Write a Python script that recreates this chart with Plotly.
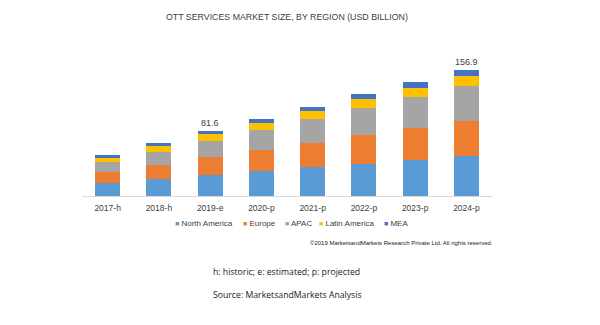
import plotly.graph_objects as go

years = ["2017-h", "2018-h", "2019-e", "2020-p", "2021-p", "2022-p", "2023-p", "2024-p"]
north_america = [16.1, 21.1, 25.8, 30.8, 35.8, 40.4, 45.4, 49.9]
europe = [13.6, 17.9, 22.8, 26.2, 30.8, 35.3, 39.1, 43.7]
apac = [12.4, 16.5, 20.5, 25.8, 29.5, 34.1, 39.1, 43.7]
latin_america = [5.8, 6.6, 7.9, 8.7, 10.0, 10.9, 11.7, 12.5]
mea = [2.9, 3.7, 4.6, 5.0, 5.5, 6.2, 6.6, 7.1]
labelled = {"2019-e": "81.6", "2024-p": "156.9"}

series = [
    ("North America", north_america, "#5B9BD5"),
    ("Europe", europe, "#ED7D31"),
    ("APAC", apac, "#A5A5A5"),
    ("Latin America", latin_america, "#FFC000"),
    ("MEA", mea, "#4472C4"),
]

fig = go.Figure()
for name, vals, color in series:
    fig.add_trace(go.Bar(x=years, y=vals, name=name, marker=dict(color=color, line=dict(width=0)),
                         showlegend=False))

totals = [sum(v) for v in zip(*[s[1] for s in series])]
for yr, tot in zip(years, totals):
    if yr in labelled:
        fig.add_annotation(x=yr, y=tot, text=labelled[yr], showarrow=False, yanchor="bottom", yshift=1,
                           font=dict(family="Liberation Sans, Arial", size=9, color="#404040"))

W, H = 600, 325
L, R, T, B = 82, 108, 60, 129
pw = W - L - R
ph = H - T - B

def px(x):
    return (x - L) / pw

def py(y):
    return (H - B - y) / ph

fig.add_annotation(xref="paper", yref="paper", x=px(287), y=py(17), text="OTT SERVICES MARKET SIZE, BY REGION (USD BILLION)",
                   showarrow=False, xanchor="center", yanchor="middle",
                   font=dict(family="Liberation Sans, Arial", size=8.8, color="#404040"))

leg_x = [173, 241, 283, 317, 382]
for (name, vals, color), lx in zip(series, leg_x):
    fig.add_annotation(xref="paper", yref="paper", x=px(lx), y=py(223), xanchor="left", yanchor="middle",
                       showarrow=False,
                       text=f"<span style='color:{color};font-size:7px'>■</span> {name}",
                       font=dict(family="Liberation Sans, Arial", size=8, color="#404040"))

fig.add_annotation(xref="paper", yref="paper", x=px(495), y=py(243), xanchor="right", yanchor="middle",
                   showarrow=False, text="©2019 MarketsandMarkets Research Private Ltd. All rights reserved.",
                   font=dict(family="Liberation Sans, Arial", size=6, color="#222222"))
fig.add_annotation(xref="paper", yref="paper", x=px(211), y=py(272), xanchor="left", yanchor="middle",
                   showarrow=False, text="h: historic; e: estimated; p: projected",
                   font=dict(family="Open Sans", size=8.7, color="#222222"))
fig.add_annotation(xref="paper", yref="paper", x=px(211), y=py(295), xanchor="left", yanchor="middle",
                   showarrow=False, text="Source: MarketsandMarkets Analysis",
                   font=dict(family="Open Sans", size=8.7, color="#222222"))

fig.update_layout(
    width=W, height=H, barmode="stack", bargap=0.51,
    margin=dict(l=L, r=R, t=T, b=B, pad=0),
    paper_bgcolor="white", plot_bgcolor="white",
    xaxis=dict(showline=True, linecolor="#D9D9D9", linewidth=1, ticks="", showgrid=False,
               tickfont=dict(family="Liberation Sans, Arial", size=8.5, color="#404040"), ticklabelstandoff=4),
    yaxis=dict(visible=False, range=[0, ph / 0.801], showgrid=False, zeroline=False),
)

fig.write_html("out.html")
